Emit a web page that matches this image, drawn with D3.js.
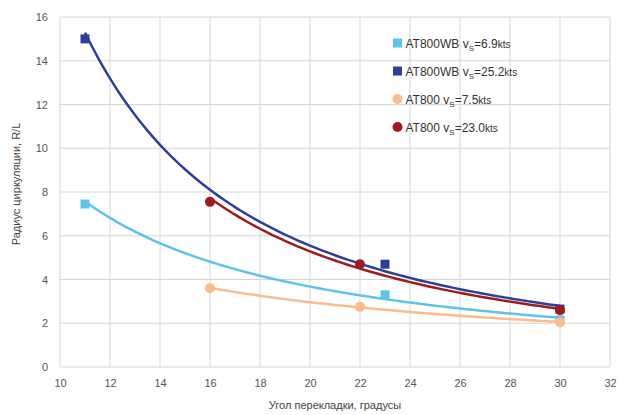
<!DOCTYPE html>
<html>
<head>
<meta charset="utf-8">
<script src="https://cdnjs.cloudflare.com/ajax/libs/d3/7.8.5/d3.min.js"></script>
<style>
    body { margin: 0; background: #fff; }
    text { font-family: "Liberation Sans", Arial, sans-serif; }
</style>
</head>
<body>
<div id="chart"></div>
<script>
// data
const xTicks = [10, 12, 14, 16, 18, 20, 22, 24, 26, 28, 30, 32];
const yTicks = [0, 2, 4, 6, 8, 10, 12, 14, 16];

const wbSlowAngle = [11, 23, 30];
const wbSlowR = [7.45, 3.3, 2.15];
const wbFastAngle = [11, 23, 30];
const wbFastR = [15.0, 4.7, 2.65];
const stSlowAngle = [16, 22, 30];
const stSlowR = [3.6, 2.75, 2.05];
const stFastAngle = [16, 22, 30];
const stFastR = [7.55, 4.7, 2.6];

const seriesNames = ["AT800WB v", "AT800WB v", "AT800 v", "AT800 v"];
const seriesSpeeds = ["=6.9", "=25.2", "=7.5", "=23.0"];

let series = [
    {name: seriesNames[0], speed: seriesSpeeds[0], xs: wbSlowAngle, ys: wbSlowR, color: "#5ec3e9", shape: "square"},
    {name: seriesNames[1], speed: seriesSpeeds[1], xs: wbFastAngle, ys: wbFastR, color: "#2f3f98", shape: "square"},
    {name: seriesNames[2], speed: seriesSpeeds[2], xs: stSlowAngle, ys: stSlowR, color: "#f9bc8e", shape: "circle"},
    {name: seriesNames[3], speed: seriesSpeeds[3], xs: stFastAngle, ys: stFastR, color: "#9c1c22", shape: "circle"}
];

// power trendline (least squares in log space), like the spreadsheet does
function powerFit(xs, ys) {
    let lx = xs.map(Math.log), ly = ys.map(Math.log);
    let mx = d3.mean(lx), my = d3.mean(ly);
    let b = d3.sum(lx, (v, i) => (v - mx) * (ly[i] - my)) / d3.sum(lx, v => (v - mx) * (v - mx));
    let a = Math.exp(my - b * mx);
    return x => a * Math.pow(x, b);
}

let margin = {top: 17, right: 14, bottom: 48, left: 60};
let width = 624 - margin.left - margin.right;
let height = 415 - margin.top - margin.bottom;

let svg = d3.select("#chart").append("svg")
    .attr("width", 624)
    .attr("height", 415)
    .append("g")
    .attr("transform", "translate(" + margin.left + "," + margin.top + ")");

let x = d3.scaleLinear().domain([10, 32]).range([0, width]);
let y = d3.scaleLinear().domain([0, 16]).range([height, 0]);

// grid
svg.append("g").selectAll("line.v")
    .data(xTicks).enter().append("line")
    .attr("x1", d => x(d)).attr("x2", d => x(d))
    .attr("y1", 0).attr("y2", height)
    .attr("stroke", "#d6d6d6").attr("stroke-width", 1);

svg.append("g").selectAll("line.h")
    .data(yTicks).enter().append("line")
    .attr("x1", 0).attr("x2", width)
    .attr("y1", d => y(d)).attr("y2", d => y(d))
    .attr("stroke", "#d6d6d6").attr("stroke-width", 1);

// axes (labels only)
let xAxis = svg.append("g")
    .attr("transform", "translate(0," + height + ")")
    .call(d3.axisBottom(x).tickValues(xTicks).tickSize(0).tickPadding(12));
let yAxis = svg.append("g")
    .call(d3.axisLeft(y).tickValues(yTicks).tickSize(0).tickPadding(12));
[xAxis, yAxis].forEach(a => {
    a.select(".domain").remove();
    a.selectAll("text").attr("font-size", "11px").attr("fill", "#555")
        .attr("font-family", "'Liberation Sans', Arial, sans-serif");
});

// axis titles
svg.append("text")
    .attr("x", width / 2).attr("y", height + 42)
    .attr("text-anchor", "middle")
    .attr("font-size", "11px").attr("fill", "#444")
    .text("Угол перекладки, градусы");

svg.append("text")
    .attr("transform", "translate(" + (-40) + "," + (height / 2 - 8) + ") rotate(-90)")
    .attr("text-anchor", "middle")
    .attr("font-size", "11px").attr("fill", "#444")
    .text("Радиус циркуляции, R/L");

// trendlines
let line = d3.line().x(d => x(d[0])).y(d => y(d[1])).curve(d3.curveBasis);

series.forEach(s => {
    let f = powerFit(s.xs, s.ys);
    let lo = d3.min(s.xs), hi = d3.max(s.xs);
    let pts = d3.range(lo, hi + 0.001, 0.25).map(v => [v, f(v)]);
    svg.append("path")
        .datum(pts)
        .attr("d", line)
        .attr("fill", "none")
        .attr("stroke", s.color)
        .attr("stroke-width", 2.5);
});

// markers
function drawMarker(g, shape, color, cx, cy) {
    if (shape === "square") {
        g.append("rect")
            .attr("x", cx - 4.5).attr("y", cy - 4.5)
            .attr("width", 9).attr("height", 9)
            .attr("fill", color);
    } else {
        g.append("circle")
            .attr("cx", cx).attr("cy", cy).attr("r", 5)
            .attr("fill", color);
    }
}

series.forEach(s => {
    let g = svg.append("g");
    s.xs.forEach((v, i) => drawMarker(g, s.shape, s.color, x(v), y(s.ys[i])));
});

// legend
let legend = svg.append("g").attr("transform", "translate(" + (x(23.5)) + ",26)");
series.forEach((s, i) => {
    let row = legend.append("g").attr("transform", "translate(0," + (i * 28) + ")");
    drawMarker(row, s.shape, s.color, 0, 0);
    let t = row.append("text")
        .attr("x", 8).attr("y", 4.5)
        .attr("font-size", "12px").attr("fill", "#333");
    t.append("tspan").text(s.name);
    t.append("tspan").attr("font-size", "8px").attr("dy", 3).text("S");
    t.append("tspan").attr("dy", -3).text(s.speed);
    t.append("tspan").attr("font-size", "10px").text("kts");
});
</script>
</body>
</html>
